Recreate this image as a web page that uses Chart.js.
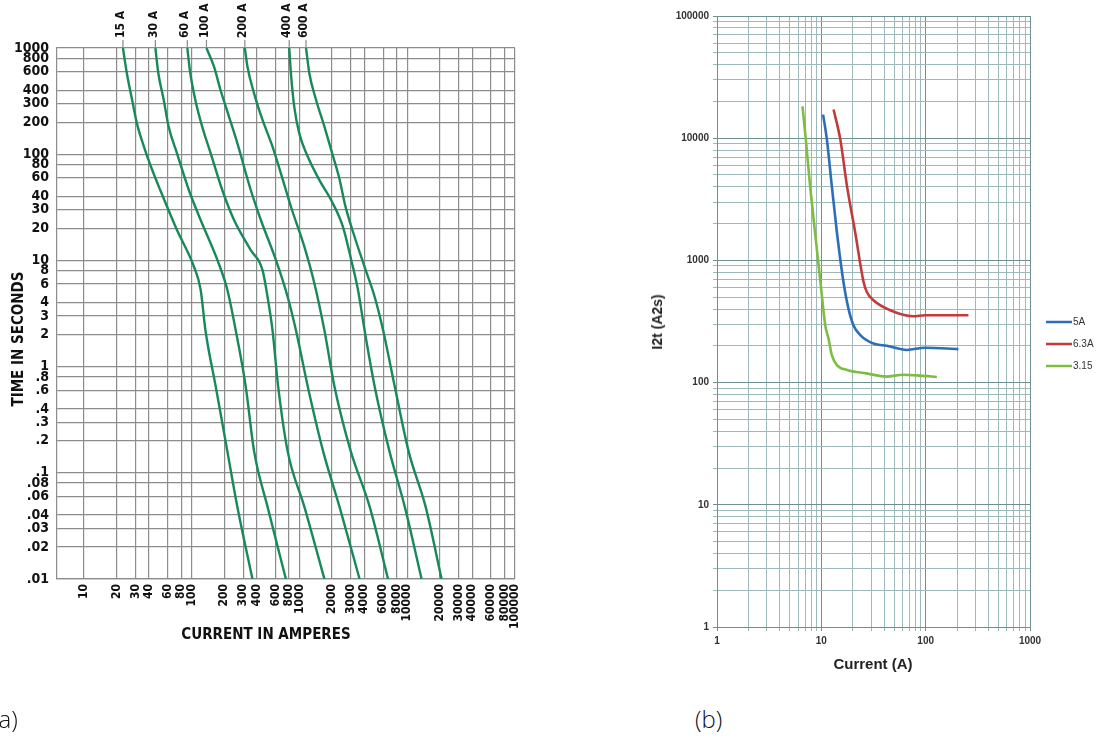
<!DOCTYPE html>
<html>
<head>
<meta charset="utf-8">
<script src="https://cdn.jsdelivr.net/npm/chart.js@4.4.1/dist/chart.umd.min.js"></script>
<style>
  body { margin: 0; background: #fff; width: 1099px; height: 738px; overflow: hidden; position: relative; }
  #fuseWrap { position: absolute; left: 0; top: 0; width: 540px; height: 630px; }
  #i2tWrap { position: absolute; left: 640px; top: 0; width: 459px; height: 660px; }
  .lbl { position: absolute; white-space: nowrap; transform: translate(-50%, -50%); }
  .narrow { font-family: 'Liberation Sans Narrow', 'DejaVu Sans Condensed', 'Arial Narrow', sans-serif; font-weight: bold; color: #111; font-size: 15px; }
  .arial { font-family: 'Liberation Sans', Arial, sans-serif; font-weight: bold; color: #222; font-size: 14px; }
  .panel { position: absolute; font-family: 'Open Sans', 'Noto Sans', sans-serif; font-weight: 300; font-size: 24px; color: #111; }
</style>
</head>
<body>
<div id="fuseWrap"><canvas id="fuseChart"></canvas></div>
<div id="i2tWrap"><canvas id="i2tChart"></canvas></div>

<div class="lbl narrow" style="left:18px; top:339px; transform: translate(-50%, -50%) rotate(-90deg);">TIME IN SECONDS</div>
<div class="lbl narrow" style="left:266px; top:634px;">CURRENT IN AMPERES</div>
<div class="lbl arial" style="left:657px; top:322px; transform: translate(-50%, -50%) rotate(-90deg);">I2t (A2s)</div>
<div class="lbl arial" style="left:873px; top:663px; font-size:15px;">Current (A)</div>
<div class="panel" style="left:-8px; top:702px;">(a)</div>
<div class="panel" style="left:695px; top:702px;">(b)</div>

<script>
/* =========================
   DATA - (a) time-current curves
========================= */
const fuseRatings = ["15 A", "30 A", "60 A", "100 A", "200 A", "400 A", "600 A"];

const amps15 = [23, 25, 28, 31, 36, 43, 51, 73, 105, 121, 134, 167, 214, 265, 366];
const secs15 = [1000, 578, 324, 195, 118, 71, 46, 19.3, 8.7, 5.3, 2.2, 0.65, 0.16, 0.048, 0.01];

const amps30 = [46, 49, 55, 61, 73, 94, 121, 173, 214, 256, 317, 379, 505, 748];
const secs30 = [1000, 578, 324, 182, 102, 46, 24, 10.1, 5.3, 2.2, 0.65, 0.16, 0.048, 0.01];

const amps60 = [91, 97, 108, 125, 150, 192, 247, 353, 454, 505, 562, 634, 776, 1109, 1703];
const secs60 = [1000, 578, 324, 182, 102, 46, 24, 12.5, 8.1, 4.55, 2.2, 0.65, 0.16, 0.048, 0.01];

const amps100 = [137, 161, 185, 222, 265, 353, 438, 604, 776, 927, 1193, 1656, 2350, 3611];
const secs100 = [1000, 667, 402, 225, 127, 46, 24, 10.1, 4.55, 2.2, 0.65, 0.16, 0.048, 0.01];

const amps200 = [311, 329, 379, 454, 562, 748, 833, 1109, 1374, 1703, 2111, 2989, 4478, 6637];
const secs200 = [1000, 667, 374, 210, 118, 46, 32, 13.5, 6.1, 2.2, 0.65, 0.16, 0.048, 0.01];

const amps400 = [803, 833, 894, 995, 1193, 1530, 1966, 2528, 3020, 3489, 4018, 4984, 6835, 9480, 13590];
const secs400 = [1000, 578, 280, 157, 95, 57, 37, 20.8, 10.1, 5.3, 2.2, 0.65, 0.16, 0.048, 0.01];

const amps600 = [1150, 1234, 1426, 1703, 2010, 2335, 2655, 3244, 4018, 4984, 5971, 7656, 10280, 14800, 20840];
const secs600 = [1000, 578, 324, 182, 102, 60, 33, 16.7, 8.7, 4.55, 2.2, 0.65, 0.16, 0.048, 0.01];

const ampTicks = [10, 20, 30, 40, 60, 80, 100, 200, 300, 400, 600, 800, 1000, 2000, 3000, 4000, 6000, 8000,
                  10000, 20000, 30000, 40000, 60000, 80000, 100000];
const secTicks = [1000, 800, 600, 400, 300, 200, 100, 80, 60, 40, 30, 20, 10, 8, 6, 4, 3, 2, 1,
                  0.8, 0.6, 0.4, 0.3, 0.2, 0.1, 0.08, 0.06, 0.04, 0.03, 0.02, 0.01];
const secLabels = ["1000", "800", "600", "400", "300", "200", "100", "80", "60", "40", "30", "20", "10", "8", "6", "4", "3", "2", "1",
                   ".8", ".6", ".4", ".3", ".2", ".1", ".08", ".06", ".04", ".03", ".02", ".01"];

/* =========================
   DATA - (b) I2t curves
========================= */
const i2tNames = ["5A", "6.3A", "3.15"];
const i2tColors = ["#2c6fb7", "#c23b3b", "#7dbd43"];

const amps5A = [10.4, 11.3, 12.6, 14.1, 16.3, 18.2, 20.3, 23.6, 31.6, 42.5, 66, 99, 206];
const i2t5A = [15600, 9780, 4070, 1700, 666, 403, 295, 245, 209, 200, 185, 193, 188];

const amps63A = [13.1, 15.2, 17.6, 21.1, 25.4, 27.3, 31.6, 45.7, 76, 99, 257];
const i2t63A = [17160, 9780, 4070, 1700, 666, 552, 472, 391, 349, 356, 356];

const amps315 = [6.6, 7.1, 7.8, 8.7, 9.8, 10.9, 11.7, 12.6, 14.1, 17.6, 27, 42, 61, 89, 128];
const i2t315 = [18250, 9780, 4070, 1700, 666, 295, 230, 168, 139, 127, 119, 112, 116, 114, 111];

const i2tMajorX = [1, 10, 100, 1000];
const i2tMajorY = [1, 10, 100, 1000, 10000, 100000];
const minorSteps = [2, 3, 4, 5, 6, 7, 8, 9];

const narrowFont = "'Liberation Sans Narrow', 'DejaVu Sans Condensed', 'Arial Narrow', sans-serif";
const plainFont = "'Liberation Sans', Arial, sans-serif";

function pairs(xs, ys) {
    return xs.map((x, i) => ({ x: x, y: ys[i] }));
}

function withMinors(majors) {
    const out = [];
    majors.forEach((m, i) => {
        out.push(m);
        if (i < majors.length - 1) minorSteps.forEach(s => out.push(m * s));
    });
    return out;
}

/* =========================
   (a) rating labels above curves
========================= */
const ratingLabels = {
    id: "ratingLabels",
    afterDraw(chart) {
        const { ctx, chartArea, scales } = chart;
        ctx.save();
        ctx.font = "bold 12px " + narrowFont;
        ctx.fillStyle = "#111";
        ctx.strokeStyle = "#8a8a8a";
        ctx.lineWidth = 1.2;
        chart.data.datasets.forEach(ds => {
            const px = scales.x.getPixelForValue(ds.data[0].x);
            ctx.beginPath();
            ctx.moveTo(px, chartArea.top - 8);
            ctx.lineTo(px, chartArea.top);
            ctx.stroke();
            ctx.save();
            ctx.translate(px - 2, chartArea.top - 10);
            ctx.rotate(-Math.PI / 2);
            ctx.textAlign = "left";
            ctx.textBaseline = "middle";
            ctx.fillText(ds.label, 0, 0);
            ctx.restore();
        });
        ctx.restore();
    }
};

const fuseSets = [
    [amps15, secs15], [amps30, secs30], [amps60, secs60], [amps100, secs100],
    [amps200, secs200], [amps400, secs400], [amps600, secs600]
];

new Chart(document.getElementById("fuseChart"), {
    type: "line",
    data: {
        datasets: fuseSets.map((s, i) => ({
            label: fuseRatings[i],
            data: pairs(s[0], s[1]),
            borderColor: "#17895b",
            borderWidth: 2.4,
            pointRadius: 0,
            cubicInterpolationMode: "monotone",
            fill: false
        }))
    },
    options: {
        responsive: true,
        maintainAspectRatio: false,
        animation: false,
        layout: { padding: { top: 48, right: 25, left: 0, bottom: 0 } },
        plugins: { legend: { display: false }, tooltip: { enabled: false } },
        scales: {
            x: {
                type: "logarithmic",
                min: 5.62,
                max: 100000,
                afterBuildTicks: s => { s.ticks = ampTicks.map(v => ({ value: v })); },
                afterFit: s => { s.height = 51; },
                grid: { color: "#8c8c8c", lineWidth: 1.2, drawTicks: false },
                border: { display: true, color: "#8c8c8c", width: 1.2 },
                ticks: {
                    autoSkip: false, minRotation: 90, maxRotation: 90, padding: 5,
                    color: "#111", font: { family: narrowFont, size: 12, weight: "bold" },
                    callback: (v, i) => String(ampTicks[i])
                }
            },
            y: {
                type: "logarithmic",
                min: 0.01,
                max: 1000,
                afterBuildTicks: s => { s.ticks = secTicks.map(v => ({ value: v })); },
                afterFit: s => { s.width = 57; },
                grid: { color: "#8c8c8c", lineWidth: 1.2, drawTicks: false },
                border: { display: true, color: "#8c8c8c", width: 1.2 },
                ticks: {
                    autoSkip: false, padding: 8,
                    color: "#111", font: { family: narrowFont, size: 14, weight: "bold" },
                    callback: (v, i) => secLabels[i]
                }
            }
        }
    },
    plugins: [ratingLabels]
});

/* =========================
   (b) legend on the right
========================= */
const sideLegend = {
    id: "sideLegend",
    afterDraw(chart) {
        const { ctx, chartArea } = chart;
        ctx.save();
        ctx.font = "10px " + plainFont;
        ctx.textBaseline = "middle";
        chart.data.datasets.forEach((ds, i) => {
            const y = chartArea.top + 306 + i * 22;
            const x = chartArea.right + 16;
            ctx.strokeStyle = ds.borderColor;
            ctx.lineWidth = 2.5;
            ctx.beginPath();
            ctx.moveTo(x, y);
            ctx.lineTo(x + 26, y);
            ctx.stroke();
            ctx.fillStyle = "#333";
            ctx.fillText(ds.label, x + 27, y);
        });
        ctx.restore();
    }
};

const i2tSets = [[amps5A, i2t5A], [amps63A, i2t63A], [amps315, i2t315]];
const xGrid = withMinors(i2tMajorX);
const yGrid = withMinors(i2tMajorY);

new Chart(document.getElementById("i2tChart"), {
    type: "line",
    data: {
        datasets: i2tSets.map((s, i) => ({
            label: i2tNames[i],
            data: pairs(s[0], s[1]),
            borderColor: i2tColors[i],
            borderWidth: 2.6,
            pointRadius: 0,
            cubicInterpolationMode: "monotone",
            fill: false
        }))
    },
    options: {
        responsive: true,
        maintainAspectRatio: false,
        animation: false,
        layout: { padding: { top: 16, right: 69, left: 0, bottom: 0 } },
        plugins: { legend: { display: false }, tooltip: { enabled: false } },
        scales: {
            x: {
                type: "logarithmic",
                min: 1,
                max: 1000,
                afterBuildTicks: s => { s.ticks = xGrid.map(v => ({ value: v })); },
                afterFit: s => { s.height = 33; },
                grid: {
                    color: c => i2tMajorX.includes(c.tick.value) ? "#6e9090" : "#9db9b9",
                    lineWidth: 1, tickLength: 4
                },
                border: { display: true, color: "#6e9090" },
                ticks: {
                    autoSkip: false, maxRotation: 0, padding: 4,
                    color: "#333", font: { family: plainFont, size: 10, weight: "bold" },
                    callback: v => i2tMajorX.includes(v) ? String(v) : ""
                }
            },
            y: {
                type: "logarithmic",
                min: 1,
                max: 100000,
                afterBuildTicks: s => { s.ticks = yGrid.map(v => ({ value: v })); },
                afterFit: s => { s.width = 77; },
                grid: {
                    color: c => i2tMajorY.includes(c.tick.value) ? "#6e9090" : "#9db9b9",
                    lineWidth: 1, tickLength: 4
                },
                border: { display: true, color: "#6e9090" },
                ticks: {
                    autoSkip: false, padding: 4,
                    color: "#333", font: { family: plainFont, size: 10, weight: "bold" },
                    callback: v => i2tMajorY.includes(v) ? String(v) : ""
                }
            }
        }
    },
    plugins: [sideLegend]
});
</script>
</body>
</html>
